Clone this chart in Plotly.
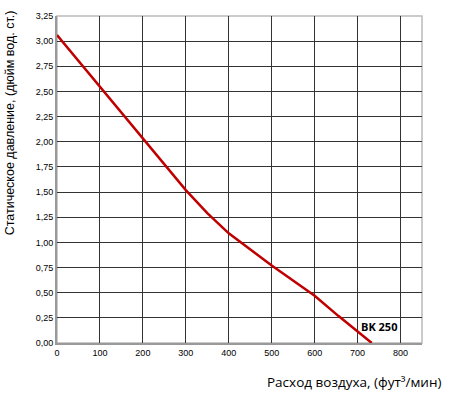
import plotly.graph_objects as go

flow = [0, 100, 200, 300, 350, 400, 500, 600, 655, 733]
pressure = [3.06, 2.55, 2.03, 1.52, 1.29, 1.09, 0.77, 0.47, 0.27, 0.0]
x_ticks = [0, 100, 200, 300, 400, 500, 600, 700, 800]
y_ticks = [0, 0.25, 0.5, 0.75, 1.0, 1.25, 1.5, 1.75, 2.0, 2.25, 2.5, 2.75, 3.0, 3.25]
y_labels = [f"{v:.2f}".replace(".", ",") for v in y_ticks]
label = "BK 250"

W, H = 450, 394
L, R, T, B = 57, 28, 11, 51

fig = go.Figure()
fig.add_trace(go.Scatter(x=flow, y=pressure, mode="lines",
                         line=dict(color="#c00000", width=2.5), showlegend=False))
fig.add_annotation(x=750, y=0.16, text="<b>" + label + "</b>", showarrow=False,
                   font=dict(family="Open Sans", size=11, color="#000"))

# axis titles placed as in reference
fig.add_annotation(xref="paper", yref="paper",
                   x=(443 - L) / (W - L - R), y=(H - B - 383) / (H - T - B),
                   xanchor="right", yanchor="middle", showarrow=False,
                   text="Расход воздуха, (фут³/мин)",
                   font=dict(family="Open Sans", size=13.5, color="#000"))
fig.add_annotation(xref="paper", yref="paper",
                   x=(10 - L) / (W - L - R), y=(H - B - 120) / (H - T - B),
                   xanchor="center", yanchor="middle", showarrow=False, textangle=-90,
                   text="Статическое давление, (дюйм вод. ст.)",
                   font=dict(family="Liberation Sans", size=12.5, color="#000"))

fig.update_layout(
    width=W, height=H,
    margin=dict(l=L, r=R, t=T, b=B),
    plot_bgcolor="white", paper_bgcolor="white",
    font=dict(family="Liberation Sans", size=9, color="#000"),
    xaxis=dict(range=[0, 850], tickvals=x_ticks, ticktext=[str(v) for v in x_ticks],
               showgrid=True, gridcolor="#333", gridwidth=1,
               showline=True, linecolor="#999", linewidth=2, mirror=False,
               zeroline=False, ticks="", ticklen=0),
    yaxis=dict(range=[0, 3.25], tickvals=y_ticks, ticktext=y_labels,
               showgrid=True, gridcolor="#333", gridwidth=1,
               showline=True, linecolor="#999", linewidth=2,
               zeroline=False, ticks=""),
)
fig.add_shape(type="rect", xref="paper", yref="paper", x0=0, y0=0, x1=1, y1=1,
              line=dict(color="#bbb", width=1.5), layer="below")
fig.write_html("out.html")
